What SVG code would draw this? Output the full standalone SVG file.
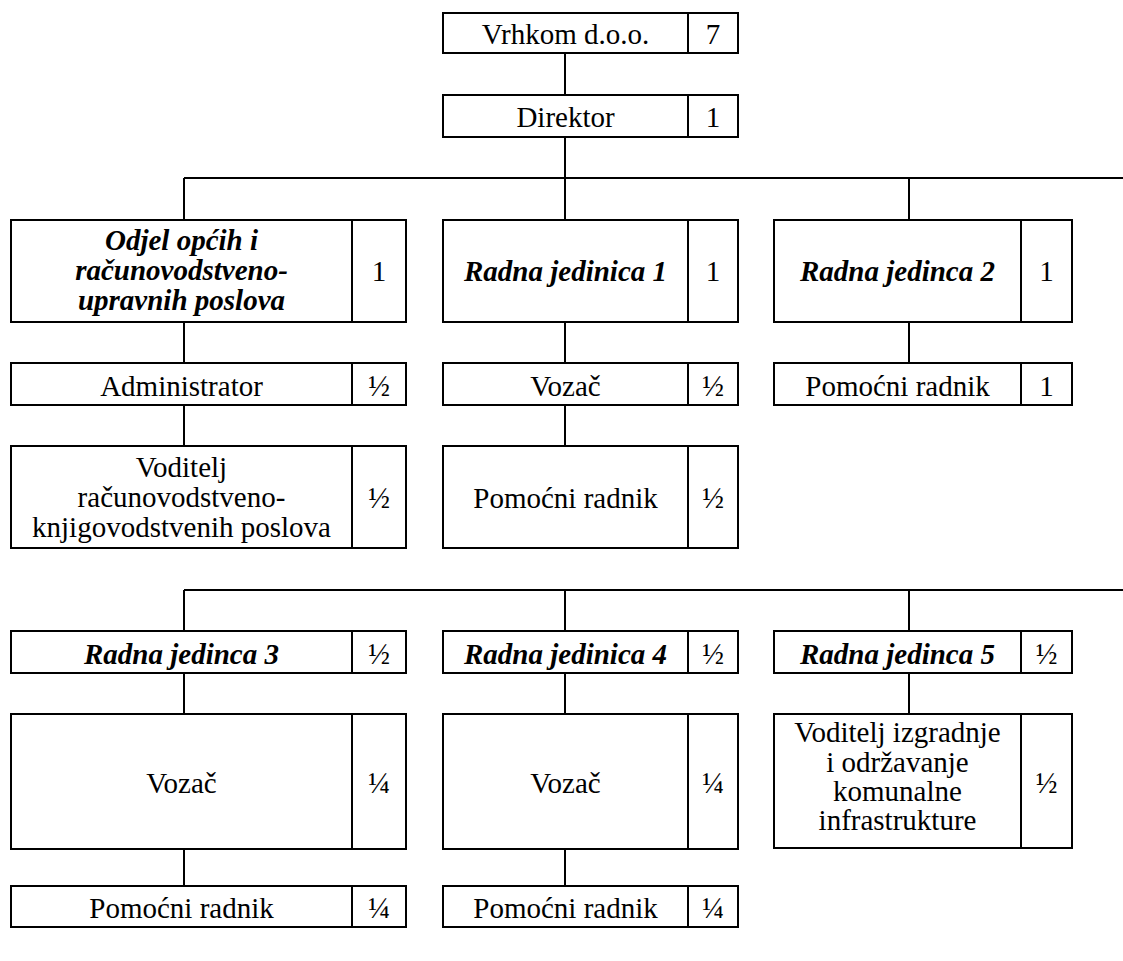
<svg xmlns="http://www.w3.org/2000/svg" width="1123" height="961" viewBox="0 0 1123 961">
<style>
.b{fill:#fff;stroke:#000;stroke-width:2}
.d{stroke:#000;stroke-width:2}
.c{stroke:#000;stroke-width:2;fill:none}
text{font-family:"Liberation Serif",Tinos,"Times New Roman",Times,"Noto Serif","DejaVu Serif",FreeSerif,serif;font-size:29px;fill:#000;text-anchor:middle}
.h{font-weight:bold;font-style:italic}
</style>
<rect width="1123" height="961" fill="#fff"/>
<g id="connectors">
<path class="c" d="M565 53V95M565 137V178M184 178H1123M184 178V220M565 178V220M909 178V220"/>
<path class="c" d="M184 322V363M565 322V363M909 322V363M184 405V446M565 405V446"/>
<path class="c" d="M184 590H1123M184 590V631M565 590V631M909 590V631"/>
<path class="c" d="M184 673V714M565 673V714M909 673V714M184 849V886M565 849V886"/>
</g>
<g id="vrhkom"><rect class="b" x="443" y="13" width="295" height="40"/><line class="d" x1="688" y1="13" x2="688" y2="53"/><text x="565.5" y="44">Vrhkom d.o.o.</text><text x="713" y="44">7</text></g>
<g id="direktor"><rect class="b" x="443" y="95" width="295" height="42"/><line class="d" x1="688" y1="95" x2="688" y2="137"/><text x="565.5" y="127">Direktor</text><text x="713" y="127">1</text></g>
<g id="odjel"><rect class="b" x="11" y="220" width="395" height="102"/><line class="d" x1="352" y1="220" x2="352" y2="322"/><text class="h" x="181.5" y="250">Odjel općih i</text><text class="h" x="181.5" y="280">računovodstveno-</text><text class="h" x="181.5" y="310">upravnih poslova</text><text x="379" y="281">1</text></g>
<g id="rj1"><rect class="b" x="443" y="220" width="295" height="102"/><line class="d" x1="688" y1="220" x2="688" y2="322"/><text class="h" x="565.5" y="281">Radna jedinica 1</text><text x="713" y="281">1</text></g>
<g id="rj2"><rect class="b" x="774" y="220" width="298" height="102"/><line class="d" x1="1021" y1="220" x2="1021" y2="322"/><text class="h" x="897.5" y="281">Radna jedinca 2</text><text x="1046.5" y="281">1</text></g>
<g id="administrator"><rect class="b" x="11" y="363" width="395" height="42"/><line class="d" x1="352" y1="363" x2="352" y2="405"/><text x="181.5" y="396">Administrator</text><text x="379" y="396">½</text></g>
<g id="vozac1"><rect class="b" x="443" y="363" width="295" height="42"/><line class="d" x1="688" y1="363" x2="688" y2="405"/><text x="565.5" y="396">Vozač</text><text x="713" y="396">½</text></g>
<g id="pomocni2"><rect class="b" x="774" y="363" width="298" height="42"/><line class="d" x1="1021" y1="363" x2="1021" y2="405"/><text x="897.5" y="396">Pomoćni radnik</text><text x="1046.5" y="396">1</text></g>
<g id="voditelj-rac"><rect class="b" x="11" y="446" width="395" height="102"/><line class="d" x1="352" y1="446" x2="352" y2="548"/><text x="181.5" y="477">Voditelj</text><text x="181.5" y="507">računovodstveno-</text><text x="181.5" y="537">knjigovodstvenih poslova</text><text x="379" y="508">½</text></g>
<g id="pomocni1"><rect class="b" x="443" y="446" width="295" height="102"/><line class="d" x1="688" y1="446" x2="688" y2="548"/><text x="565.5" y="508">Pomoćni radnik</text><text x="713" y="508">½</text></g>
<g id="rj3"><rect class="b" x="11" y="631" width="395" height="42"/><line class="d" x1="352" y1="631" x2="352" y2="673"/><text class="h" x="181.5" y="664">Radna jedinca 3</text><text x="379" y="664">½</text></g>
<g id="rj4"><rect class="b" x="443" y="631" width="295" height="42"/><line class="d" x1="688" y1="631" x2="688" y2="673"/><text class="h" x="565.5" y="664">Radna jedinica 4</text><text x="713" y="664">½</text></g>
<g id="rj5"><rect class="b" x="774" y="631" width="298" height="42"/><line class="d" x1="1021" y1="631" x2="1021" y2="673"/><text class="h" x="897.5" y="664">Radna jedinca 5</text><text x="1046.5" y="664">½</text></g>
<g id="vozac3"><rect class="b" x="11" y="714" width="395" height="135"/><line class="d" x1="352" y1="714" x2="352" y2="849"/><text x="181.5" y="793">Vozač</text><text x="379" y="793">¼</text></g>
<g id="vozac4"><rect class="b" x="443" y="714" width="295" height="135"/><line class="d" x1="688" y1="714" x2="688" y2="849"/><text x="565.5" y="793">Vozač</text><text x="713" y="793">¼</text></g>
<g id="voditelj-izg"><rect class="b" x="774" y="714" width="298" height="134"/><line class="d" x1="1021" y1="714" x2="1021" y2="848"/><text x="897.5" y="742">Voditelj izgradnje</text><text x="897.5" y="772">i održavanje</text><text x="897.5" y="801">komunalne</text><text x="897.5" y="830">infrastrukture</text><text x="1046.5" y="793">½</text></g>
<g id="pomocni3"><rect class="b" x="11" y="886" width="395" height="41"/><line class="d" x1="352" y1="886" x2="352" y2="927"/><text x="181.5" y="918">Pomoćni radnik</text><text x="379" y="918">¼</text></g>
<g id="pomocni4"><rect class="b" x="443" y="886" width="295" height="41"/><line class="d" x1="688" y1="886" x2="688" y2="927"/><text x="565.5" y="918">Pomoćni radnik</text><text x="713" y="918">¼</text></g>
</svg>
